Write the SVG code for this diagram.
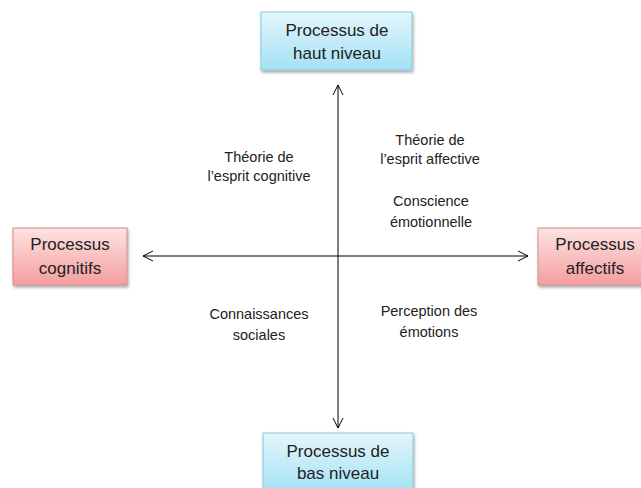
<svg xmlns="http://www.w3.org/2000/svg" width="641" height="488" viewBox="0 0 641 488">
<defs>
<linearGradient id="gb" x1="0" y1="0" x2="0" y2="1"><stop offset="0" stop-color="#e4f6fc"/><stop offset="1" stop-color="#a4e1f4"/></linearGradient>
<linearGradient id="gr" x1="0" y1="0" x2="0" y2="1"><stop offset="0" stop-color="#fde3e3"/><stop offset="1" stop-color="#f49e9e"/></linearGradient>
<filter id="sh" x="-10%" y="-10%" width="130%" height="140%"><feDropShadow dx="1" dy="2" stdDeviation="1.5" flood-color="#000" flood-opacity="0.35"/></filter>
<marker id="ah" viewBox="0 0 12 12" refX="11" refY="6" markerWidth="12" markerHeight="12" markerUnits="userSpaceOnUse" orient="auto-start-reverse"><path d="M1,1 L11,6 L1,11" fill="none" stroke="#000" stroke-width="1"/></marker>
</defs>
<style>
.bb{fill:url(#gb);stroke:#86c9dd;stroke-width:1;filter:url(#sh)}
.br{fill:url(#gr);stroke:#d48a8a;stroke-width:1;filter:url(#sh)}
.bt{font-family:"Liberation Sans",Arial,sans-serif;font-size:17px;fill:#222;text-anchor:middle}
.qt{font-family:"Liberation Sans",Arial,sans-serif;font-size:14.5px;fill:#222;text-anchor:middle}
.ax{stroke:#000;stroke-width:1;fill:none}
</style>
<rect width="641" height="488" fill="#fff"/>
<g id="connectors">
<line class="ax" x1="338" y1="428" x2="338" y2="85" marker-start="url(#ah)" marker-end="url(#ah)"/>
<line class="ax" x1="143" y1="256" x2="528" y2="256" marker-start="url(#ah)" marker-end="url(#ah)"/>
</g>
<g id="haut">
<rect class="bb" x="261" y="12" width="151" height="58"/>
<text class="bt" x="337" y="36">Processus de</text>
<text class="bt" x="337" y="59">haut niveau</text>
</g>
<g id="bas">
<rect class="bb" x="263" y="433" width="150" height="60"/>
<text class="bt" x="338" y="457">Processus de</text>
<text class="bt" x="338" y="479">bas niveau</text>
</g>
<g id="cognitifs">
<rect class="br" x="13" y="228" width="114" height="57"/>
<text class="bt" x="70" y="250">Processus</text>
<text class="bt" x="70" y="274">cognitifs</text>
</g>
<g id="affectifs">
<rect class="br" x="538" y="228" width="114" height="57"/>
<text class="bt" x="595" y="250">Processus</text>
<text class="bt" x="595" y="274">affectifs</text>
</g>
<g id="q1">
<text class="qt" x="259" y="162">Théorie de</text>
<text class="qt" x="259" y="181">l’esprit cognitive</text>
</g>
<g id="q2">
<text class="qt" x="430" y="145">Théorie de</text>
<text class="qt" x="430" y="164">l’esprit affective</text>
<text class="qt" x="431" y="206">Conscience</text>
<text class="qt" x="431" y="227">émotionnelle</text>
</g>
<g id="q3">
<text class="qt" x="259" y="319">Connaissances</text>
<text class="qt" x="259" y="340">sociales</text>
</g>
<g id="q4">
<text class="qt" x="429" y="316">Perception des</text>
<text class="qt" x="429" y="337">émotions</text>
</g>
</svg>
